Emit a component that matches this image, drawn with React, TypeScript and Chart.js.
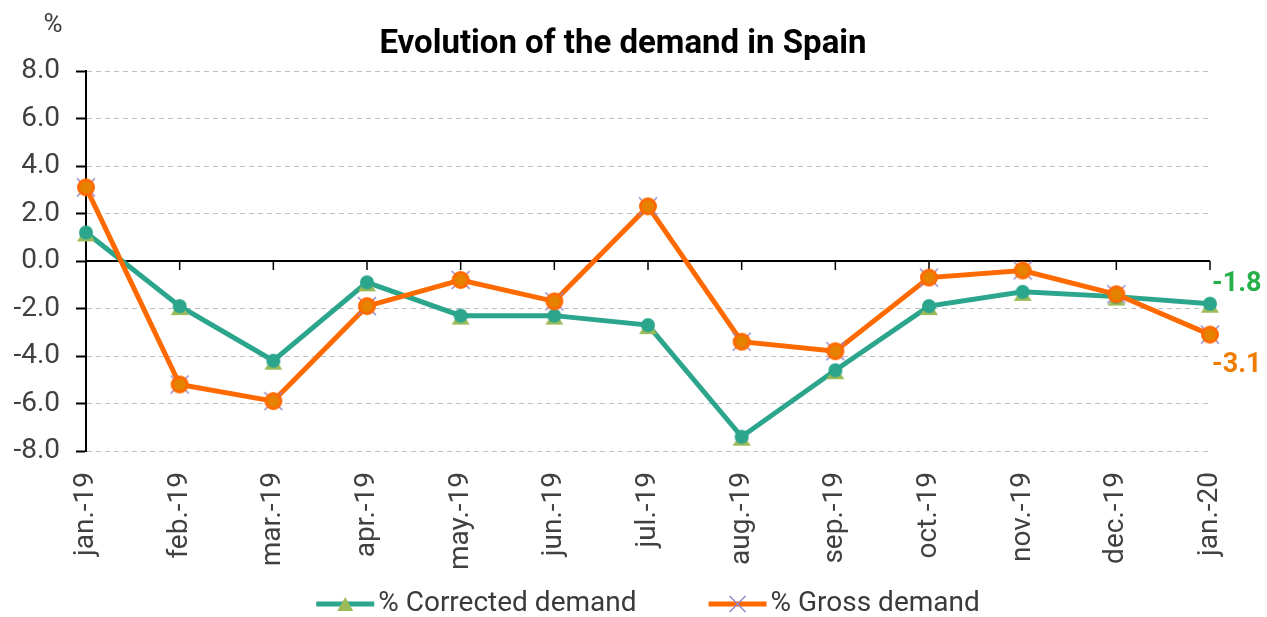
import React, { useEffect, useRef } from 'react';
import { Chart, registerables } from 'chart.js';

Chart.register(...registerables);

const categories = ['jan.-19', 'feb.-19', 'mar.-19', 'apr.-19', 'may.-19', 'jun.-19', 'jul.-19', 'aug.-19', 'sep.-19', 'oct.-19', 'nov.-19', 'dec.-19', 'jan.-20'];
const correctedDemand = [1.2, -1.9, -4.2, -0.9, -2.3, -2.3, -2.7, -7.4, -4.6, -1.9, -1.3, -1.5, -1.8];
const grossDemand = [3.1, -5.2, -5.9, -1.9, -0.8, -1.7, 2.3, -3.4, -3.8, -0.7, -0.4, -1.4, -3.1];
const seriesNames = ['% Corrected demand', '% Gross demand'];
const titleText = 'Evolution of the demand in Spain';
const unitLabel = '%';
const yMin = -8;
const yMax = 8;
const yStep = 2;

const GREEN = '#2CA58D';
const GREEN_TRI = '#9BBB59';
const ORANGE = '#FF6A00';
const ORANGE_FILL = '#E58200';
const PURPLE = '#9585C8';
const FONT = 'Roboto, "Noto Sans", sans-serif';

function makeGreenPoint(): HTMLCanvasElement {
  const c = document.createElement('canvas');
  c.width = 22; c.height = 22;
  const g = c.getContext('2d')!;
  g.fillStyle = GREEN_TRI;
  g.beginPath(); g.moveTo(2, 20); g.lineTo(20, 20); g.lineTo(11, 6); g.closePath(); g.fill();
  g.fillStyle = GREEN;
  g.beginPath(); g.arc(11, 11, 7, 0, Math.PI * 2); g.fill();
  return c;
}

function makeOrangePoint(): HTMLCanvasElement {
  const c = document.createElement('canvas');
  c.width = 24; c.height = 24;
  const g = c.getContext('2d')!;
  g.strokeStyle = PURPLE; g.lineWidth = 1.5;
  g.beginPath(); g.moveTo(3, 3); g.lineTo(21, 21); g.moveTo(21, 3); g.lineTo(3, 21); g.stroke();
  g.fillStyle = ORANGE_FILL; g.strokeStyle = ORANGE; g.lineWidth = 3;
  g.beginPath(); g.arc(12, 12, 7.5, 0, Math.PI * 2); g.fill(); g.stroke();
  return c;
}

const zeroLinePlugin = {
  id: 'zeroLine',
  beforeDatasetsDraw(chart: any) {
    const { ctx, chartArea, scales } = chart;
    const y0 = scales.y.getPixelForValue(0);
    ctx.save();
    ctx.strokeStyle = '#000';
    ctx.lineWidth = 2;
    ctx.beginPath();
    ctx.moveTo(chartArea.left, y0);
    ctx.lineTo(chartArea.right, y0);
    ctx.stroke();
    ctx.lineWidth = 1.5;
    categories.forEach((_, i) => {
      const x = scales.x.getPixelForValue(i);
      ctx.beginPath();
      ctx.moveTo(x, y0);
      ctx.lineTo(x, y0 + 9);
      ctx.stroke();
    });
    ctx.restore();
  },
};

const decorPlugin = {
  id: 'decor',
  afterDraw(chart: any) {
    const { ctx, chartArea } = chart;
    ctx.save();
    // title
    ctx.fillStyle = '#000';
    ctx.font = `bold 33px ${FONT}`;
    ctx.textAlign = 'center';
    ctx.textBaseline = 'middle';
    ctx.fillText(titleText, 623, 45);
    // unit label
    ctx.fillStyle = '#404040';
    ctx.font = `26px ${FONT}`;
    ctx.fillText(unitLabel, 53, 25);

    // end labels
    const metaG = chart.getDatasetMeta(0);
    const metaO = chart.getDatasetMeta(1);
    const last = categories.length - 1;
    const pG = metaG.data[last];
    const pO = metaO.data[last];
    ctx.font = `bold 27px ${FONT}`;
    ctx.textAlign = 'left';
    ctx.fillStyle = '#27B04A';
    ctx.fillText(correctedDemand[last].toFixed(1), pG.x + 2, pG.y - 20);
    ctx.fillStyle = '#F07D00';
    ctx.fillText(grossDemand[last].toFixed(1), pO.x + 2, pO.y + 31);

    // legend
    ctx.font = `28px ${FONT}`;
    const w1 = ctx.measureText(seriesNames[0]).width;
    const w2 = ctx.measureText(seriesNames[1]).width;
    const lineW = 58;
    const gap = 72;
    const total = lineW + 4 + w1 + gap + lineW + 4 + w2;
    const cx = (chartArea.left + chartArea.right) / 2;
    let x = cx - total / 2;
    const ly = 604;
    ctx.textBaseline = 'middle';
    // entry 1
    ctx.strokeStyle = GREEN; ctx.lineWidth = 5;
    ctx.beginPath(); ctx.moveTo(x, ly); ctx.lineTo(x + lineW, ly); ctx.stroke();
    ctx.fillStyle = GREEN_TRI;
    ctx.beginPath(); ctx.moveTo(x + lineW / 2 - 8, ly + 7); ctx.lineTo(x + lineW / 2 + 8, ly + 7); ctx.lineTo(x + lineW / 2, ly - 7); ctx.closePath(); ctx.fill();
    ctx.fillStyle = '#3A3A3A';
    ctx.fillText(seriesNames[0], x + lineW + 4, ly);
    x += lineW + 4 + w1 + gap;
    // entry 2
    ctx.strokeStyle = ORANGE; ctx.lineWidth = 5;
    ctx.beginPath(); ctx.moveTo(x, ly); ctx.lineTo(x + lineW, ly); ctx.stroke();
    ctx.strokeStyle = PURPLE; ctx.lineWidth = 1.5;
    const mx = x + lineW / 2;
    ctx.beginPath(); ctx.moveTo(mx - 8, ly - 8); ctx.lineTo(mx + 8, ly + 8); ctx.moveTo(mx + 8, ly - 8); ctx.lineTo(mx - 8, ly + 8); ctx.stroke();
    ctx.fillStyle = '#3A3A3A';
    ctx.fillText(seriesNames[1], x + lineW + 4, ly);
    ctx.restore();
  },
};

export default function App() {
  const ref = useRef<HTMLCanvasElement | null>(null);
  useEffect(() => {
    if (!ref.current) return;
    const greenPt = makeGreenPoint();
    const orangePt = makeOrangePoint();
    const chart = new Chart(ref.current, {
      type: 'line',
      data: {
        labels: categories,
        datasets: [
          {
            label: seriesNames[0],
            data: correctedDemand,
            borderColor: GREEN,
            backgroundColor: GREEN,
            borderWidth: 5,
            pointStyle: greenPt as any,
            pointRadius: 6,
            tension: 0,
            clip: false as any,
            order: 1,
          },
          {
            label: seriesNames[1],
            data: grossDemand,
            borderColor: ORANGE,
            backgroundColor: ORANGE,
            borderWidth: 5,
            pointStyle: orangePt as any,
            pointRadius: 6,
            tension: 0,
            clip: false as any,
            order: 0,
          },
        ],
      },
      options: {
        responsive: false,
        animation: false,
        layout: { padding: { top: 71, right: 57, bottom: 0, left: 0 } },
        plugins: {
          legend: { display: false },
          title: { display: false },
          tooltip: { enabled: false },
        },
        scales: {
          x: {
            offset: false,
            grid: { display: false, drawTicks: false },
            border: { display: false },
            ticks: {
              minRotation: 90,
              maxRotation: 90,
              autoSkip: false,
              padding: 21,
              color: '#404040',
              font: { family: FONT, size: 28 },
            },
            afterFit(scale: any) {
              scale.height = 166;
              scale.paddingLeft = 0;
              scale.paddingRight = 0;
            },
          },
          y: {
            min: yMin,
            max: yMax,
            ticks: {
              stepSize: yStep,
              padding: 16,
              color: '#404040',
              font: { family: FONT, size: 28 },
              callback: (v: any) => Number(v).toFixed(1),
            },
            grid: {
              color: '#BFBFBF',
              lineWidth: 1,
              tickColor: '#000',
              tickLength: 10,
              tickWidth: 2,
            },
            border: { display: true, color: '#000', width: 2, dash: [5, 4] },
            afterFit(scale: any) {
              scale.width = 86;
              scale.paddingTop = 0;
              scale.paddingBottom = 0;
            },
          },
        },
      },
      plugins: [zeroLinePlugin, decorPlugin],
    });
    return () => chart.destroy();
  }, []);
  return (
    <div style={{ position: 'fixed', left: 0, top: 0, width: 1267, height: 617, background: '#fff' }}>
      <canvas ref={ref} width={1267} height={617} />
    </div>
  );
}
